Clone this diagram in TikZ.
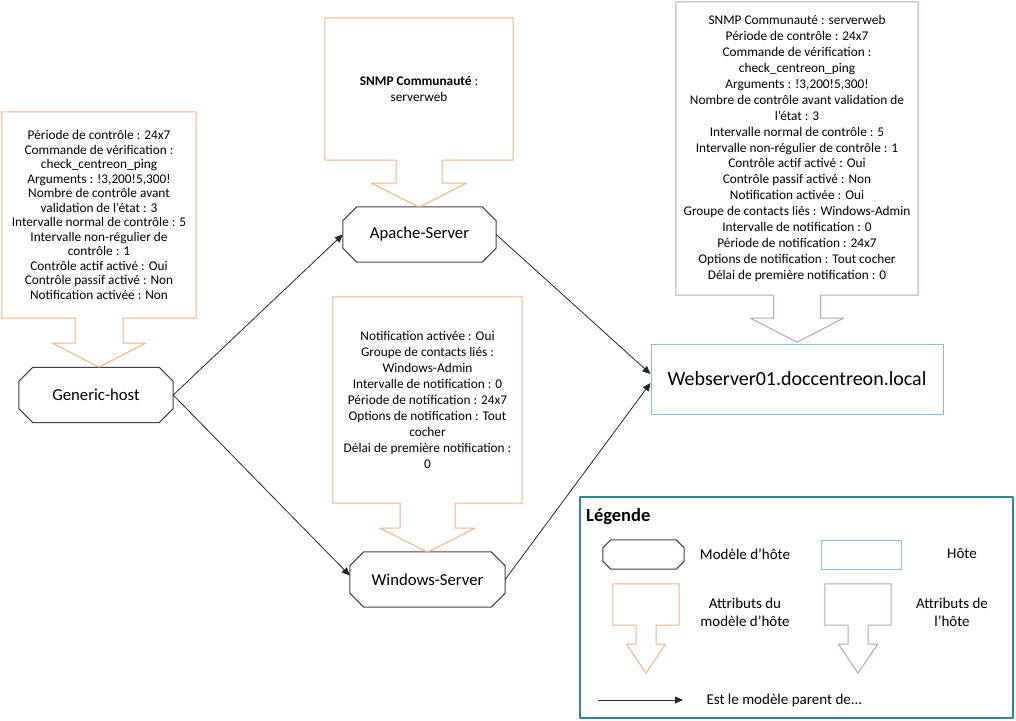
\documentclass[tikz,border=0pt]{standalone}
\usepackage{fontspec}
\setmainfont{Carlito}
\usetikzlibrary{arrows.meta}
\definecolor{orangeattr}{RGB}{244,177,131}
\definecolor{violetattr}{RGB}{179,162,199}
\definecolor{bleuhote}{RGB}{125,195,213}
\definecolor{bleuleg}{RGB}{49,133,156}
\tikzset{
	modele/.style={minimum width=#1, minimum height=55, inner sep=0, font=\fontsize{16.7}{20}\selectfont},
	modele/.default=154,
	hote/.style={draw=bleuhote, line width=1pt, inner sep=0},
	attr/.style={align=center, inner sep=0, font=\fontsize{13.3}{15.9}\selectfont},
	lien/.style={->, draw=black!85, line width=0.8pt},
	legtxt/.style={align=center, font=\fontsize{15}{18}\selectfont},
}
% contour d'un attribut (rectangle + fleche vers le bas)
\newcommand{\fleche}[6]{%
	\draw[#2, line width=1pt] (#1.south west) -- (#1.north west) -- (#1.north east) -- (#1.south east)
	-- ([xshift=#3]#1.south) -- ([xshift=#3,yshift=-#5]#1.south) -- ([xshift=#4,yshift=-#5]#1.south)
	-- ([yshift=-#5-#6]#1.south) -- ([xshift=-#4,yshift=-#5]#1.south) -- ([xshift=-#3,yshift=-#5]#1.south)
	-- ([xshift=-#3]#1.south) -- cycle;}
% octogone autour d'un noeud
\newcommand{\octo}[2]{%
	\draw[black!75, line width=1pt] ([xshift=#2]#1.north west) -- ([xshift=-#2]#1.north east) -- ([yshift=-#2]#1.north east)
	-- ([yshift=#2]#1.south east) -- ([xshift=-#2]#1.south east) -- ([xshift=#2]#1.south west)
	-- ([yshift=#2]#1.south west) -- ([yshift=-#2]#1.north west) -- cycle;}
\begin{document}
\begin{tikzpicture}[x=1pt, y=-1pt, >={Triangle[length=8pt,width=7pt]}, line join=round]
		\useasboundingbox (0,0) rectangle (1016,720);
		%	\draw[color=gray!50,dashed] (0,0) grid[step=50] (1016,720);
		\node[modele] (gen) at (96,395) {Generic-host};
		\node[modele=153] (apache) at (419.5,234.5) {Apache-Server};
		\node[modele=155] (win) at (427.5,579.5) {Windows-Server};
		\node[hote, minimum width=292, minimum height=70, font=\fontsize{20}{24}\selectfont] (web) at (797,379) {Webserver01.doccentreon.local};
		\foreach \n in {gen,apache,win} {\octo{\n}{14}}
		
		\node[attr, minimum width=194, minimum height=206, font=\fontsize{13.3}{14.5}\selectfont] (attrgen) at (99,215) {Période de contrôle : 24x7\\Commande de vérification :\\check\_centreon\_ping\\Arguments : !3,200!5,300!\\Nombre de contrôle avant\\validation de l’état : 3\\Intervalle normal de contrôle : 5\\Intervalle non-régulier de\\contrôle : 1\\Contrôle actif activé : Oui\\Contrôle passif activé : Non\\Notification activée : Non};
		\node[attr, minimum width=188, minimum height=142] (attrapache) at (419,89) {\textbf{SNMP Communauté} :\\serverweb};
		\node[attr, minimum width=189, minimum height=206] (attrwin) at (427.5,400) {Notification activée : Oui\\Groupe de contacts liés :\\Windows-Admin\\Intervalle de notification : 0\\Période de notification : 24x7\\Options de notification : Tout\\cocher\\Délai de première notification :\\0};
		\node[attr, minimum width=242, minimum height=293] (attrweb) at (797,148.5) {SNMP Communauté : serverweb\\Période de contrôle : 24x7\\Commande de vérification :\\check\_centreon\_ping\\Arguments : !3,200!5,300!\\Nombre de contrôle avant validation de\\l’état : 3\\Intervalle normal de contrôle : 5\\Intervalle non-régulier de contrôle : 1\\Contrôle actif activé : Oui\\Contrôle passif activé : Non\\Notification activée : Oui\\Groupe de contacts liés : Windows-Admin\\Intervalle de notification : 0\\Période de notification : 24x7\\Options de notification : Tout cocher\\Délai de première notification : 0};
		\fleche{attrgen}{orangeattr}{24}{46.5}{25}{24}
		\fleche{attrapache}{orangeattr}{23}{47.5}{23}{24}
		\fleche{attrwin}{orangeattr}{27.5}{47.5}{25}{24}
		\fleche{attrweb}{violetattr}{23.5}{46.5}{23}{24}
		
		\draw[lien] (gen.east) -- (apache.west);
		\draw[lien] (gen.east) -- ([yshift=4]win.west);
		\draw[lien] (apache.east) -- ([yshift=5]web.west);
		\draw[lien] (win.east) -- ([yshift=-4]web.west);
		
		% legende
		\node[draw=bleuleg, line width=2pt, minimum width=433, minimum height=221, inner sep=0] (leg) at (796.5,607.5) {};
		\node[anchor=west, inner sep=0, font=\fontsize{18.5}{22}\selectfont\bfseries] (legtitre) at (586,517) {Légende};
		\node[modele=81, minimum height=29] (legmodele) at (643.5,554.5) {};
		\octo{legmodele}{8}
		\node[legtxt] (txtmodele) at (745,554) {Modèle d’hôte};
		\node[hote, minimum width=80, minimum height=29] (leghote) at (861,554.5) {};
		\node[legtxt] (txthote) at (962,553) {Hôte};
		\node[minimum width=66, minimum height=41, inner sep=0] (legattrmod) at (646,604.5) {};
		\fleche{legattrmod}{orangeattr}{10}{19.5}{19}{29}
		\node[legtxt] (txtattrmod) at (745,612) {Attributs du\\modèle d’hôte};
		\node[minimum width=66, minimum height=41, inner sep=0] (legattrhote) at (858,604.5) {};
		\fleche{legattrhote}{violetattr}{10}{19.5}{19}{29}
		\node[legtxt] (txtattrhote) at (952,612) {Attributs de\\l’hôte};
		\coordinate (liena) at (598,700);
		\coordinate (lienb) at (683,700);
		\draw[lien] (liena) -- (lienb);
		\node[legtxt, anchor=west] (txtlien) at (703,700) {Est le modèle parent de...};
		\end{tikzpicture}
\end{document}
